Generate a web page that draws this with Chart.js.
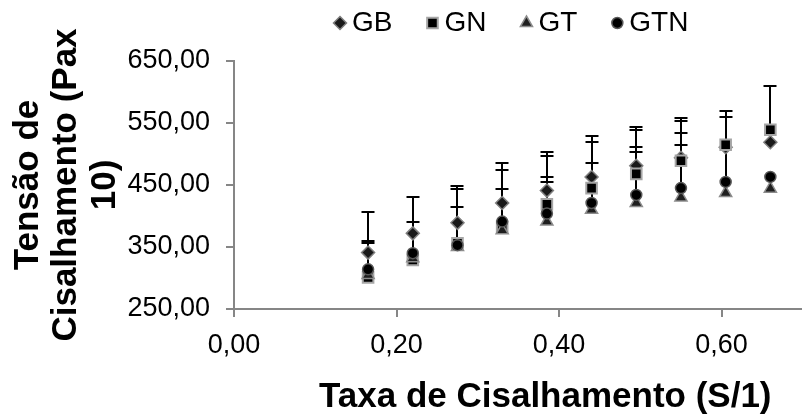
<!DOCTYPE html>
<html>
<head>
<meta charset="utf-8">
<title>Tensão de cisalhamento</title>
<script src="https://cdn.jsdelivr.net/npm/chart.js@4.4.1/dist/chart.umd.min.js"></script>
<style>
  html, body { margin: 0; padding: 0; background: #fff; overflow: hidden; }
  #wrap { width: 802px; height: 418px; overflow: hidden; }
</style>
</head>
<body>
<div id="wrap"><canvas id="chart" width="866" height="418"></canvas></div>
<script>
// shear rate (S/1) and shear stress (Pa x 10) for each sample
const shearRate = [0.165, 0.22, 0.275, 0.33, 0.385, 0.44, 0.495, 0.55, 0.605, 0.66];
const gb  = [341, 372, 389, 421, 441, 463, 481, 494, 511, 519];
const gn  = [301, 329, 356, 383, 419, 445, 468, 489, 515, 539];
const gt  = [305, 332, 350, 377, 391, 410, 421, 430, 437, 444];
const gtn = [314, 340, 353, 391, 404, 421, 434, 445, 455, 463];

// upper end of each error bar (null = no bar shown)
const gbTop  = [359, 391, 443, 475, 496, 520, 538, 553, null, null];
const gnTop  = [407, 430, 449, 485, 504, 529, 544, 558, 569, 609];
const gtTop  = [null, null, null, null, 455, null, 504, 515, null, null];
const gtnTop = [356, null, 414, 443, 463, 486, 512, 534, 559, null];

const yTicks = [250, 350, 450, 550, 650];
const xTicks = [0, 0.2, 0.4, 0.6];

const FONT = "'Liberation Sans', Arial, Helvetica, sans-serif";
const AXIS_GREY = "#868686";

const comma = (v) => v.toFixed(2).replace(".", ",");
const toPoints = (ys) => ys.map((y, i) => ({ x: shearRate[i], y }));

// plus-only error bars with caps, drawn under the markers
const errorBars = {
  id: "errorBars",
  beforeDatasetsDraw(chart) {
    const { ctx, scales: { x, y } } = chart;
    ctx.save();
    ctx.strokeStyle = "#000";
    ctx.lineWidth = 2;
    chart.data.datasets.forEach((ds) => {
      ds.errorTop.forEach((top, i) => {
        if (top == null) return;
        const px = Math.round(x.getPixelForValue(shearRate[i]));
        const y0 = y.getPixelForValue(ds.data[i].y);
        const y1 = Math.round(y.getPixelForValue(top));
        ctx.beginPath();
        ctx.moveTo(px, y0);
        ctx.lineTo(px, y1);
        ctx.moveTo(px - 6.5, y1);
        ctx.lineTo(px + 6.5, y1);
        ctx.stroke();
      });
    });
    ctx.restore();
  },
};

// compact legend row: marker right next to its name
const markerLegend = {
  id: "markerLegend",
  afterDraw(chart) {
    const { ctx } = chart;
    const y = 23;
    let x = 340;
    ctx.save();
    ctx.font = `28px ${FONT}`;
    ctx.textBaseline = "middle";
    chart.data.datasets.forEach((ds) => {
      ctx.fillStyle = ds.backgroundColor;
      ctx.strokeStyle = ds.borderColor;
      ctx.lineWidth = ds.borderWidth;
      Chart.helpers.drawPoint(ctx, {
        pointStyle: ds.pointStyle,
        radius: ds.pointRadius,
        borderWidth: ds.borderWidth,
      }, x, y);
      ctx.fillStyle = "#000";
      ctx.fillText(ds.label, x + 12, y);
      x += 12 + ctx.measureText(ds.label).width + 40;
    });
    ctx.restore();
  },
};

const datasets = [
  {
    label: "GB", data: toPoints(gb), errorTop: gbTop,
    pointStyle: "rectRot", pointRadius: 6.5,
    backgroundColor: "#1a1a1a", borderColor: "#7f7f7f", borderWidth: 1.5, order: 4,
  },
  {
    label: "GN", data: toPoints(gn), errorTop: gnTop,
    pointStyle: "rect", pointRadius: 7.5,
    backgroundColor: "#000", borderColor: "#a6a6a6", borderWidth: 2, order: 3,
  },
  {
    label: "GT", data: toPoints(gt), errorTop: gtTop,
    pointStyle: "triangle", pointRadius: 7,
    backgroundColor: "#1f1f1f", borderColor: "#8c8c8c", borderWidth: 1.5, order: 2,
  },
  {
    label: "GTN", data: toPoints(gtn), errorTop: gtnTop,
    pointStyle: "circle", pointRadius: 5.5,
    backgroundColor: "#000", borderColor: "#595959", borderWidth: 1.5, order: 1,
  },
];
datasets.forEach((ds) => {
  ds.pointBorderWidth = ds.borderWidth;
  ds.pointHoverRadius = ds.pointRadius;
  ds.showLine = false;
});

const axisLine = {
  drawOnChartArea: false,
  drawTicks: true,
  tickLength: 8,
  color: AXIS_GREY,
  lineWidth: 2,
};

new Chart(document.getElementById("chart"), {
  type: "scatter",
  data: { datasets },
  plugins: [errorBars, markerLegend],
  options: {
    responsive: false,
    devicePixelRatio: 1,
    animation: false,
    layout: { padding: { top: 61, left: 0, right: 0, bottom: 0 } },
    plugins: {
      legend: { display: false },
      tooltip: { enabled: false },
    },
    scales: {
      x: {
        type: "linear",
        min: 0,
        max: 0.766,
        afterBuildTicks: (scale) => { scale.ticks = xTicks.map((value) => ({ value })); },
        afterFit: (scale) => { scale.height = 109; },
        ticks: {
          callback: (v) => comma(v),
          color: "#000",
          padding: 12,
          maxRotation: 0,
          font: { family: FONT, size: 27 },
        },
        grid: axisLine,
        border: { display: true, color: AXIS_GREY, width: 2 },
        title: {
          display: true,
          text: "Taxa de Cisalhamento (S/1)",
          color: "#000",
          font: { family: FONT, size: 35, weight: "bold", lineHeight: 1.2 },
          padding: { top: 17, bottom: 0 },
        },
      },
      y: {
        min: 250,
        max: 650,
        afterBuildTicks: (scale) => { scale.ticks = yTicks.map((value) => ({ value })); },
        afterFit: (scale) => { scale.width = 234; },
        ticks: {
          callback: (v) => comma(v),
          color: "#000",
          padding: 16,
          font: { family: FONT, size: 27 },
        },
        grid: axisLine,
        border: { display: true, color: AXIS_GREY, width: 2 },
        title: {
          display: true,
          text: ["Tensão de", "Cisalhamento (Pax", "10)"],
          color: "#000",
          font: { family: FONT, size: 35, weight: "bold", lineHeight: 1.1 },
          padding: { top: 9, bottom: 0 },
        },
      },
    },
  },
});
</script>
</body>
</html>
